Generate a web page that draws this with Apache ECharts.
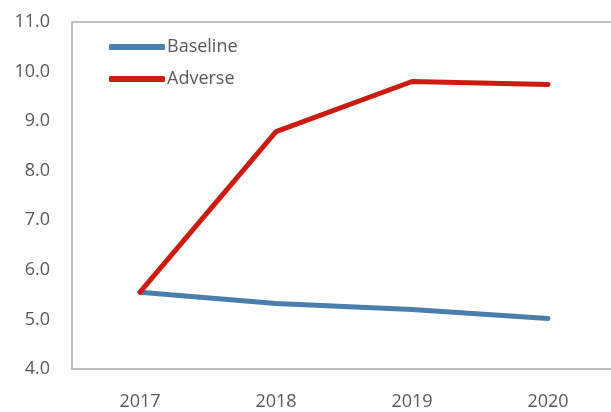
<!DOCTYPE html>
<html>
<head>
<meta charset="utf-8">
<script src="https://cdn.jsdelivr.net/npm/echarts@6/dist/echarts.min.js"></script>
<style>
  html, body { margin: 0; padding: 0; background: #fff; }
  #chart { width: 611px; height: 412px; }
</style>
</head>
<body>
<div id="chart"></div>
<script>
// Scenario paths by year
const years = ['2017', '2018', '2019', '2020'];
const baseline = [5.55, 5.32, 5.2, 5.02];
const adverse = [5.55, 8.79, 9.8, 9.74];

const font = '"Open Sans", "Noto Sans", sans-serif';
const textColor = '#595959';
const frame = { show: true, lineStyle: { color: '#BFBFBF', width: 2 } };

const chart = echarts.init(document.getElementById('chart'), null, { renderer: 'canvas' });
chart.setOption({
  animation: false,
  backgroundColor: '#ffffff',
  grid: {
    left: 72,
    top: 22,
    width: 544,
    height: 347,
    containLabel: false,
    outerBoundsMode: 'none'
  },
  legend: {
    orient: 'vertical',
    left: 104,
    top: 33,
    itemWidth: 56,
    itemHeight: 6,
    itemGap: 14,
    icon: 'roundRect',
    textStyle: { fontFamily: font, fontSize: 18, color: textColor, padding: [0, 0, 0, -3] },
    data: ['Baseline', 'Adverse']
  },
  xAxis: [
    {
      type: 'category',
      data: years,
      boundaryGap: true,
      axisLine: frame,
      axisTick: { show: false },
      axisLabel: { fontFamily: font, fontSize: 18, color: textColor, margin: 24 },
      splitLine: { show: false }
    },
    {
      // top edge of the plot frame
      type: 'category',
      data: years,
      position: 'top',
      axisLine: frame,
      axisTick: { show: false },
      axisLabel: { show: false },
      splitLine: { show: false }
    }
  ],
  yAxis: {
    type: 'value',
    min: 4,
    max: 11,
    interval: 1,
    axisLine: frame,
    axisTick: { show: false },
    splitLine: { show: false },
    axisLabel: {
      fontFamily: font, fontSize: 18, color: textColor, margin: 22,
      formatter: v => v.toFixed(1)
    }
  },
  series: [
    {
      name: 'Baseline',
      type: 'line',
      data: baseline,
      symbol: 'none',
      color: '#4A7EAD',
      lineStyle: { width: 5, color: '#4A7EAD', cap: 'round', join: 'round' },
      z: 2
    },
    {
      name: 'Adverse',
      type: 'line',
      data: adverse,
      symbol: 'none',
      color: '#CC1B10',
      lineStyle: { width: 5, color: '#CC1B10', cap: 'round', join: 'round' },
      z: 3
    }
  ]
});
</script>
</body>
</html>
